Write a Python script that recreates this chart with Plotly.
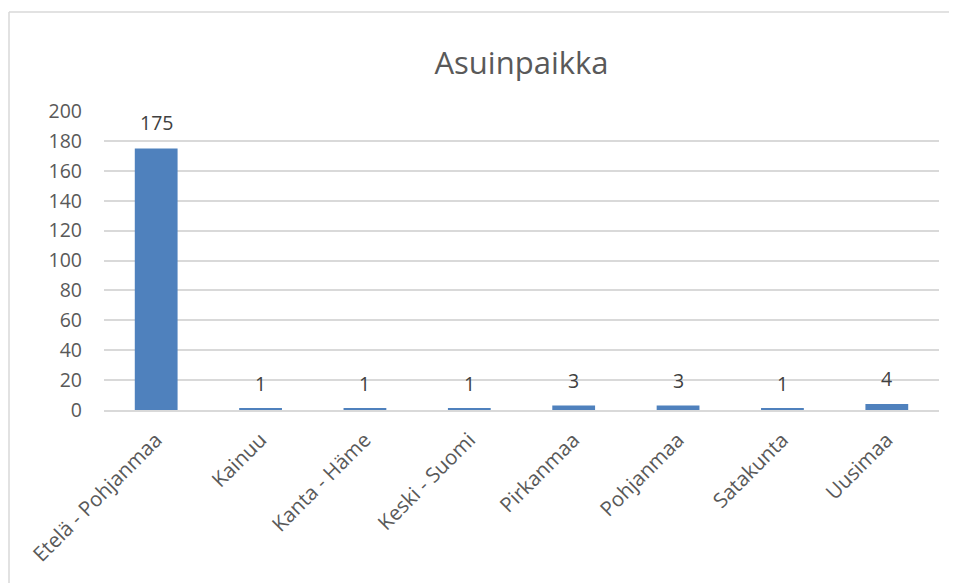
import plotly.graph_objects as go

# Asuinpaikka - vastaajien määrä maakunnittain
regions = ["Etelä - Pohjanmaa", "Kainuu", "Kanta - Häme", "Keski - Suomi",
           "Pirkanmaa", "Pohjanmaa", "Satakunta", "Uusimaa"]
counts = [175, 1, 1, 1, 3, 3, 1, 4]
y_ticks = [0, 20, 40, 60, 80, 100, 120, 140, 160, 180, 200]

text_color = "#595959"
grid_color = "#d9d9d9"
font_family = "'Open Sans', sans-serif"

# page has an 8px body margin, so the figure is sized to fit the window
W, H = 949, 575
L, R, T, B = 96, 18, 103, 173
pw, ph = W - L - R, H - T - B

fig = go.Figure()

fig.add_trace(go.Bar(
    x=regions,
    y=counts,
    marker=dict(color="#4f81bd", line=dict(color="#4f81bd", width=0)),
    width=0.41,
    hoverinfo="x+y",
))

# value labels above bars
for r, c in zip(regions, counts):
    fig.add_annotation(x=r, y=c, text=str(c), showarrow=False,
                       yanchor="bottom", yshift=10,
                       font=dict(size=19.5, color="#404040", family=font_family))

fig.update_layout(
    width=W,
    height=H,
    paper_bgcolor="white",
    plot_bgcolor="white",
    margin=dict(l=L, r=R, t=T, b=B),
    title=dict(text="Asuinpaikka", x=0.5, xref="paper", xanchor="center",
               y=1 - 55 / H, yref="container", yanchor="middle",
               font=dict(size=31, color=text_color, family=font_family)),
    showlegend=False,
    xaxis=dict(
        tickangle=-45,
        tickfont=dict(size=20.5, color=text_color, family=font_family),
        showline=True, linecolor=grid_color, linewidth=1.5,
        ticks="", showgrid=False,
        ticklabelstandoff=8,
    ),
    yaxis=dict(
        range=[0, 200],
        tickvals=y_ticks,
        tickfont=dict(size=19.5, color=text_color, family=font_family),
        showgrid=True, gridcolor=grid_color, gridwidth=1.5,
        zeroline=False, showline=False, ticks="",
        ticklabelstandoff=21,
    ),
    shapes=[
        # chart border (top and left edges, as in the cropped source)
        dict(type="line", xref="paper", yref="paper",
             x0=(1 - L) / pw, x1=(W - L + 20) / pw,
             y0=(ph + T - 4) / ph, y1=(ph + T - 4) / ph,
             line=dict(color=grid_color, width=1.5)),
        dict(type="line", xref="paper", yref="paper",
             x0=(1 - L) / pw, x1=(1 - L) / pw,
             y0=(ph + T - 4) / ph, y1=-(B + 20) / ph,
             line=dict(color=grid_color, width=1.5)),
    ],
)

fig.write_html("out.html")
